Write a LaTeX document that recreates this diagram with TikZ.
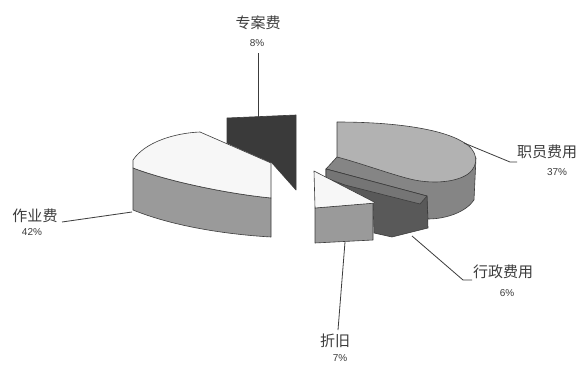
\documentclass[tikz,border=0pt]{standalone}
\usepackage{fontspec}
\setmainfont{Liberation Sans}
\newfontfamily\cjk{Noto Sans CJK SC}
\definecolor{whitec}{HTML}{F7F7F7}
\definecolor{sidec}{HTML}{9A9A9A}
\definecolor{darkc}{HTML}{3A3A3A}
\definecolor{bigtop}{HTML}{B2B2B2}
\definecolor{bigside}{HTML}{858585}
\definecolor{wedgec}{HTML}{595959}
\definecolor{wedgetop}{HTML}{757575}
\definecolor{inkc}{HTML}{3C3C3C}
\begin{document}
\begin{tikzpicture}[x=1pt,y=-1pt,line join=round,
  face/.style={draw=inkc,line width=0.6pt},
  lbl/.style={font=\cjk\fontsize{15}{17}\selectfont,text=inkc,inner sep=0pt},
  pct/.style={font=\fontsize{10}{12}\selectfont,text=inkc,inner sep=0pt},
  leader/.style={draw=inkc,line width=0.8pt}]
\useasboundingbox (0,0) rectangle (588,371);
\fill[white] (0,0) rectangle (588,371);

% 专案费 (dark slice)
\filldraw[face,fill=darkc] (227,118) -- (296,115) -- (296,190) -- (272,163) -- (227,143) -- cycle;

% 作业费 (big left slice)
\filldraw[face,fill=sidec] (133,168) .. controls (170,182) and (230,194) .. (271,198)
  -- (271,237) .. controls (220,234) and (170,225) .. (133,210) -- cycle;
\filldraw[face,fill=whitec] (133,168) -- (133,160) .. controls (145,142) and (175,133) .. (200,132)
  -- (271,163) -- (271,198) .. controls (230,194) and (170,182) .. (133,168) -- cycle;

% 职员费用 (big right slice)
\filldraw[face,fill=bigside] (337,157) -- (476,158) -- (474,200)
  .. controls (466,212) and (446,219) .. (428,219) -- (427,197) -- (326,169) -- cycle;
\filldraw[face,fill=bigtop] (337,122) .. controls (390,122) and (440,128) .. (463,142)
  .. controls (478,150) and (480,165) .. (468,174)
  .. controls (455,183) and (430,184) .. (410,179)
  .. controls (390,174) and (360,163) .. (337,157) -- cycle;

% 行政费用 (thin wedge)
\filldraw[face,fill=wedgec] (326,169) -- (427,196) -- (428,228) -- (392,237) -- (374,233)
  -- (373,203) -- (326,178) -- cycle;
\filldraw[face,fill=wedgetop] (326,169) -- (427,196) -- (420,204) -- (345,185) -- (326,178) -- cycle;

% 折旧
\filldraw[face,fill=sidec] (315,208) -- (373,203) -- (373,240) -- (315,243) -- cycle;
\filldraw[face,fill=whitec] (314,171) -- (376,203) -- (315,208) -- cycle;

% labels
\node[lbl] (zaL) at (258,23) {专案费};
\node[pct] (zaP) at (257,43) {8\%};
\node[lbl,anchor=west] (zyL) at (517,152) {职员费用};
\node[pct] (zyP) at (557,172) {37\%};
\node[lbl,anchor=west] (xzL) at (473,272) {行政费用};
\node[pct] (xzP) at (507,293) {6\%};
\node[lbl] (zjL) at (335,341) {折旧};
\node[pct] (zjP) at (340,358) {7\%};
\node[lbl] (zuL) at (35,216) {作业费};
\node[pct] (zuP) at (32,232) {42\%};

% leaders
\coordinate (zaA) at (258,117);
\coordinate (zaB) at (258,53);
\draw[leader] (zaA) -- (zaB);
\coordinate (zyA) at (464,143);
\coordinate (zyB) at (510,162);
\coordinate (zyC) at (517,162);
\draw[leader] (zyA) -- (zyB) -- (zyC);
\coordinate (xzA) at (412,236);
\coordinate (xzB) at (463,280);
\coordinate (xzC) at (472,280);
\draw[leader] (xzA) -- (xzB) -- (xzC);
\coordinate (zjA) at (345,242);
\coordinate (zjB) at (338,330);
\draw[leader] (zjA) -- (zjB);
\coordinate (zuA) at (132,212);
\coordinate (zuB) at (62,222);
\draw[leader] (zuA) -- (zuB);
\end{tikzpicture}
\end{document}
